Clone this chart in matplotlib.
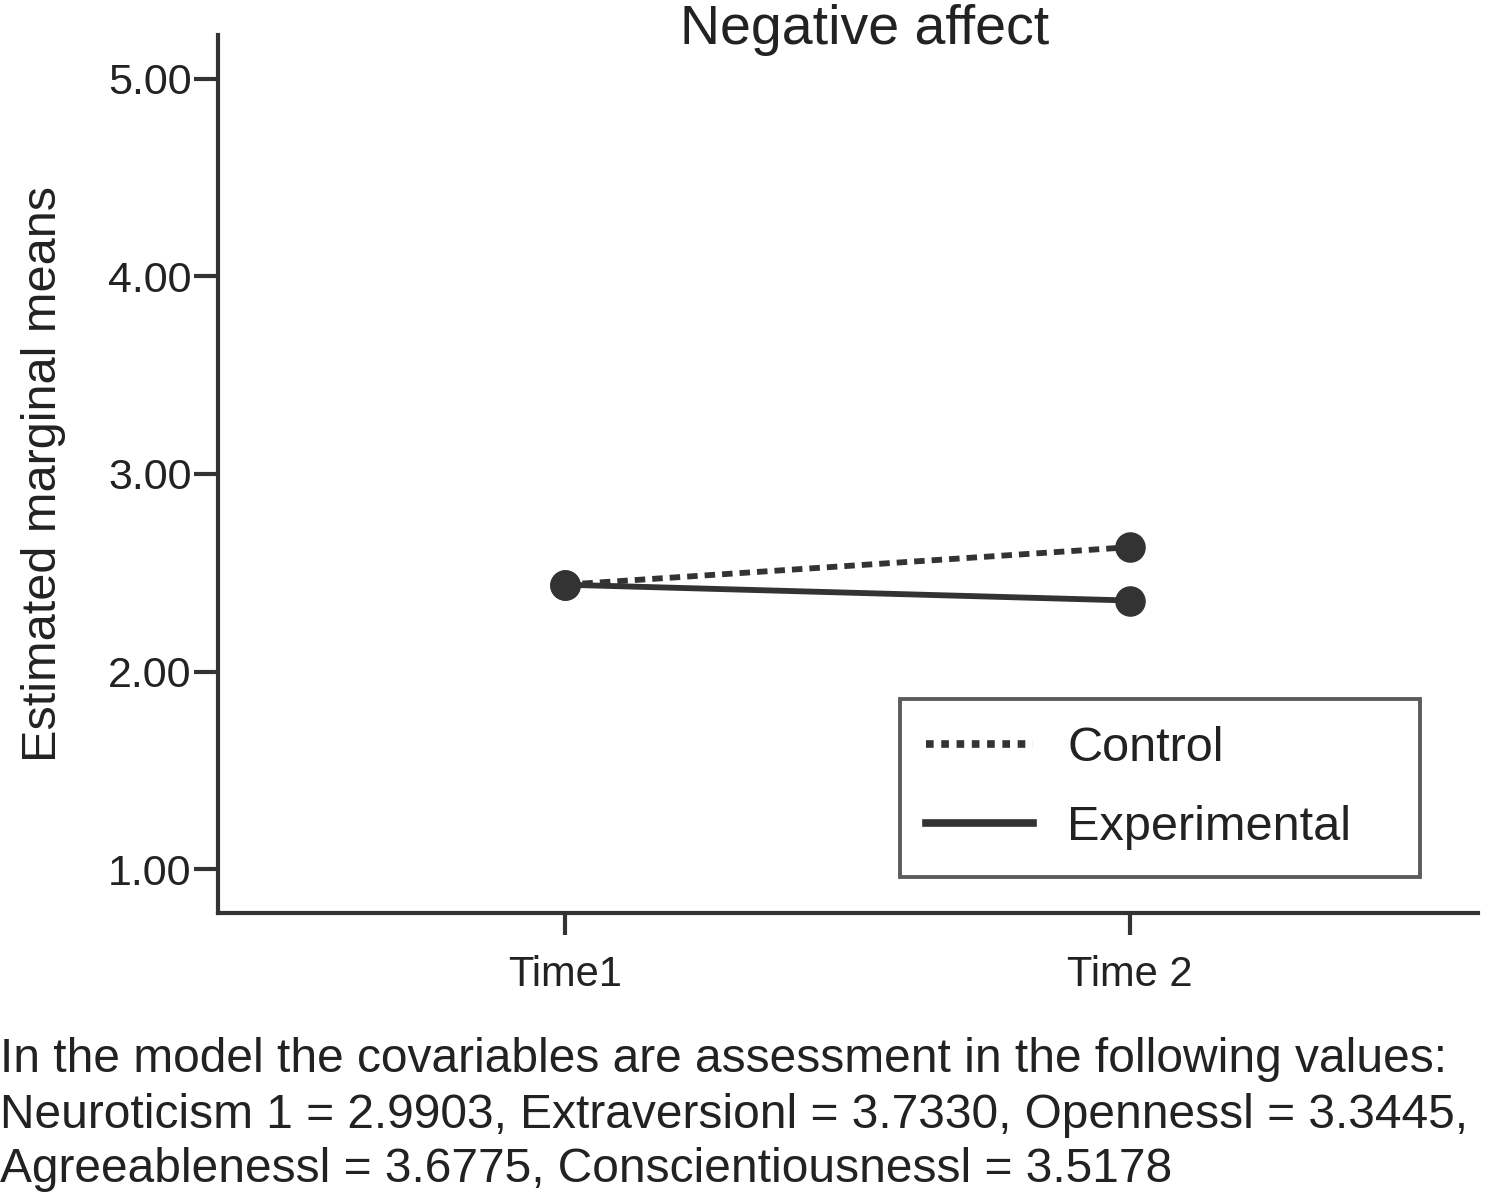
import numpy as np
import matplotlib.pyplot as plt

plt.rcParams['font.family'] = ['Liberation Sans', 'DejaVu Sans']

# Estimated marginal means
times = ["Time1", "Time 2"]
control = [2.44, 2.63]
experimental = [2.44, 2.36]
yticks = [1.0, 2.0, 3.0, 4.0, 5.0]

note_lines = [
    "In the model the covariables are assessment in the following values:",
    "Neuroticism 1 = 2.9903, Extraversionl = 3.7330, Opennessl = 3.3445,",
    "Agreeablenessl = 3.6775, Conscientiousnessl = 3.5178",
]

ink = "#333333"
txt = "#222222"

fig = plt.figure(figsize=(14.88, 12.03), dpi=100)
ax = fig.add_axes([0.1465, 0.2411, 0.8468, 0.7298])

x = np.arange(len(times))
ax.plot(x, control, color=ink, lw=4.2, ls=(0, (1.8, 1.2)), marker="o", ms=21,
        label="Control", zorder=3)
ax.plot(x, experimental, color=ink, lw=4.2, ls="-", marker="o", ms=21,
        label="Experimental", zorder=3)

ax.set_xlim(-0.614, 1.616)
ax.set_ylim(0.78, 5.22)
ax.set_xticks(x)
ax.set_xticklabels(times)
ax.set_yticks(yticks)
ax.set_yticklabels([f"{v:.2f}" for v in yticks])

for s in ["top", "right"]:
    ax.spines[s].set_visible(False)
for s in ["left", "bottom"]:
    ax.spines[s].set_linewidth(3)
    ax.spines[s].set_color(ink)

ax.tick_params(axis="y", length=17, width=3, color=ink, pad=2, labelsize=31, labelcolor=txt)
ax.tick_params(axis="x", length=16, width=3, color=ink, pad=14, labelsize=30, labelcolor=txt)

ax.set_ylabel("Estimated marginal means", fontsize=35, color=txt, labelpad=30)

fig.text(865 / 1488, 1 - 30 / 1203, "Negative affect", fontsize=40, color=txt,
         ha="center", va="center")

leg = ax.legend(loc="lower left", bbox_to_anchor=(0.541, 0.041, 0.413, 0.207),
                mode="expand", borderaxespad=0, fontsize=35, frameon=True,
                fancybox=False, handlelength=2.2, handletextpad=0.7,
                labelspacing=0.7, borderpad=0.55)
leg.get_frame().set_edgecolor(ink)
leg.get_frame().set_linewidth(2.8)
for h in leg.legend_handles:
    h.set_marker("")
    h.set_linewidth(5.5)
leg.legend_handles[0].set_linestyle((0, (1, 1)))
for t in leg.get_texts():
    t.set_color(txt)

for i, line in enumerate(note_lines):
    fig.text(0.0, 1 - (1060 + 55 * i) / 1203, line, fontsize=34.5, color=txt,
             ha="left", va="center")

fig.savefig("out.png", dpi=100)
